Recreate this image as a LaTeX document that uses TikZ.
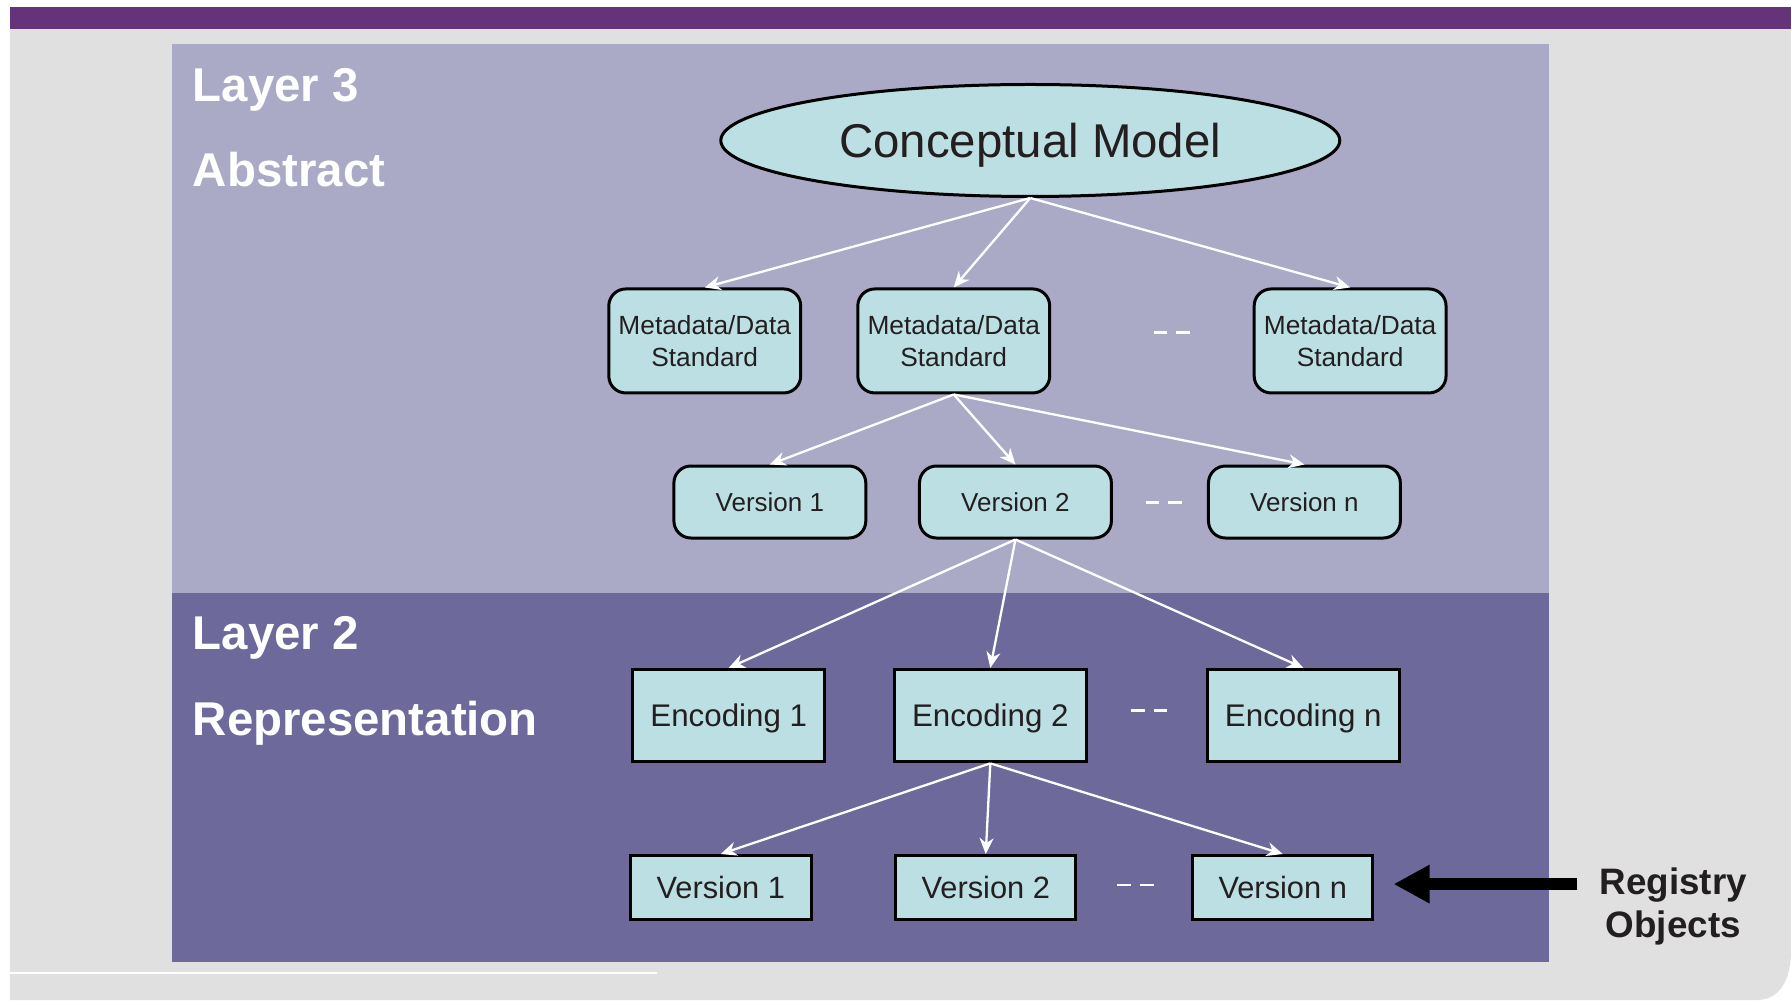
\documentclass[tikz,border=0pt]{standalone}
\usepackage{fontspec}
\setmainfont{Liberation Sans}
\usetikzlibrary{arrows.meta,shapes.geometric}
\definecolor{bggray}{HTML}{E0E0E0}
\definecolor{topbar}{HTML}{65337A}
\definecolor{layerthree}{HTML}{AAAAC7}
\definecolor{layertwo}{HTML}{6D6A9B}
\definecolor{boxfill}{HTML}{BCDFE3}
\definecolor{textdark}{HTML}{231F20}
\begin{document}
\begin{tikzpicture}[x=1.14222pt,y=-1.14222pt,
  rbox/.style={draw=black, line width=3pt, fill=boxfill, rounded corners=17pt, inner sep=0pt, text=textdark},
  sbox/.style={draw=black, line width=3pt, fill=boxfill, inner sep=0pt, text=textdark, text depth=0pt},
  warrow/.style={draw=white, line width=2.3pt, -{Stealth[length=16pt,width=14pt]}},
  wdash/.style={draw=white, line width=2.3pt, dash pattern=on 13.7pt off 9pt},
  lbl/.style={text=white, font=\bfseries\fontsize{47.4}{52}\selectfont, inner sep=0pt, anchor=base west},
  mdfont/.style={font=\fontsize{26.3}{32}\selectfont, align=center},
  vthree/.style={rbox, minimum width=191.9pt, minimum height=72pt, text height=18.6pt, text depth=0pt, font=\fontsize{26}{30}\selectfont},
  encbox/.style={sbox, minimum width=191.9pt, minimum height=92.5pt, text height=22.4pt, font=\fontsize{31.3}{36}\selectfont},
  vtwo/.style={sbox, minimum width=180.5pt, minimum height=64pt, text height=22pt, font=\fontsize{30.8}{36}\selectfont},
  regtext/.style={text=textdark, font=\bfseries\fontsize{36.8}{42}\selectfont, inner sep=0pt, anchor=base}
]
\useasboundingbox (0,0) rectangle (1568,875.5);
% background
\fill[white] (0,0) rectangle (1568,875.5);
\fill[bggray] (8.7,25) -- (1568,25) -- (1568,832) .. controls (1568,858) and (1558,875.5) .. (1538,875.5) -- (8.7,875.5) -- cycle;
\fill[topbar] (8.7,6) rectangle (1568,25);
\draw[white, line width=1.6pt] (8.7,852) -- (575,852);
% panels
\fill[layerthree] (150.5,38.5) rectangle (1356,519);
\fill[layertwo] (150.5,519) rectangle (1356,842);
% layer labels
\node[lbl] (l3) at (168.7,89) {Layer 3};
\node[lbl] (abs) at (168.7,163.5) {Abstract};
\node[lbl] (l2) at (168.7,569) {Layer 2};
\node[lbl] (rep) at (168.7,643.5) {Representation};
% nodes
\node[ellipse, draw=black, line width=3pt, fill=boxfill, minimum width=619pt, minimum height=112pt, inner sep=0pt, text=textdark, text height=34pt, text depth=0pt, font=\fontsize{47.4}{52}\selectfont] (cm) at (902,123) {Conceptual Model};
\node[rbox, mdfont, minimum width=191.9pt, minimum height=104pt] (md1) at (617,298.5) {Metadata/Data\\Standard};
\node[rbox, mdfont, minimum width=191.9pt, minimum height=104pt] (md2) at (835,298.5) {Metadata/Data\\Standard};
\node[rbox, mdfont, minimum width=191.9pt, minimum height=104pt] (md3) at (1182,298.5) {Metadata/Data\\Standard};
\node[vthree] (v31) at (674,439.5) {Version 1};
\node[vthree] (v32) at (889,439.5) {Version 2};
\node[vthree] (v3n) at (1142,439.5) {Version n};
\node[encbox] (e1) at (638,626.5) {Encoding 1};
\node[encbox] (e2) at (867,626.5) {Encoding 2};
\node[encbox] (en) at (1141,626.5) {Encoding n};
\node[vtwo] (v21) at (631,777) {Version 1};
\node[vtwo] (v22) at (863,777) {Version 2};
\node[vtwo] (v2n) at (1123,777) {Version n};
% connectors
\draw[warrow] (cm.south) -- (md1.north);
\draw[warrow] (cm.south) -- (md2.north);
\draw[warrow] (cm.south) -- (md3.north);
\draw[warrow] (md2.south) -- (v31.north);
\draw[warrow] (md2.south) -- (v32.north);
\draw[warrow] (md2.south) -- (v3n.north);
\draw[warrow] (v32.south) -- (e1.north);
\draw[warrow] (v32.south) -- (e2.north);
\draw[warrow] (v32.south) -- (en.north);
\draw[warrow] (e2.south) -- (v21.north);
\draw[warrow] (e2.south) -- (v22.north);
\draw[warrow] (e2.south) -- (v2n.north);
% dashes
\coordinate (d1a) at (1010,291); \coordinate (d1b) at (1042,291);
\coordinate (d2a) at (1003,440); \coordinate (d2b) at (1035,440);
\coordinate (d3a) at (990,622);  \coordinate (d3b) at (1022,622);
\coordinate (d4a) at (978,775);  \coordinate (d4b) at (1010,775);
\draw[wdash] (d1a) -- (d1b);
\draw[wdash] (d2a) -- (d2b);
\draw[wdash] (d3a) -- (d3b);
\draw[wdash] (d4a) -- (d4b);
% registry objects
\node[regtext] (reg1) at (1465,782.7) {Registry};
\node[regtext] (reg2) at (1465,821) {Objects};
\coordinate (arrstart) at (1381,774);
\coordinate (arrend) at (1220,774);
\draw[line width=12pt, -{Triangle[length=36pt,width=36pt]}] (arrstart) -- (arrend);
\end{tikzpicture}
\end{document}
